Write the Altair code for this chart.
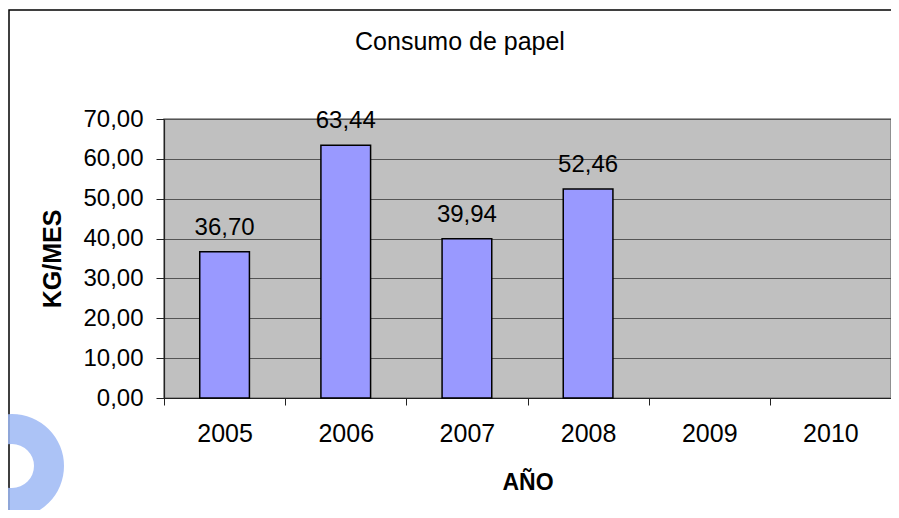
import altair as alt
import pandas as pd

years = ["2005", "2006", "2007", "2008", "2009", "2010"]
values = [36.70, 63.44, 39.94, 52.46, None, None]
title_text = "Consumo de papel"
y_title = "KG/MES"
x_title = "AÑO"

W, H = 727, 279
FONT = "Liberation Sans"

df = pd.DataFrame({"anio": years, "valor": values})
one = pd.DataFrame({"t": [title_text]})

x_enc = alt.X("anio:N", sort=years,
              scale=alt.Scale(paddingInner=0, paddingOuter=0),
              axis=alt.Axis(title=x_title, labelAngle=0, tickBand="extent",
                            labelFontSize=25, labelFont=FONT, labelColor="black",
                            labelPadding=16, tickSize=7, tickColor="#222",
                            domainColor="#222", domainWidth=1.2,
                            titleFont=FONT, titleFontSize=23, titleFontWeight="bold",
                            titleX=W / 2, titleY=84, titleBaseline="middle",
                            titleColor="black"))
y_enc = alt.Y("valor:Q",
              scale=alt.Scale(domain=[0, 70], nice=False, zero=True),
              axis=alt.Axis(title=y_title, values=[0, 10, 20, 30, 40, 50, 60, 70],
                            labelExpr="replace(format(datum.value, '.2f'), '.', ',')",
                            labelFontSize=24, labelFont=FONT, labelColor="black",
                            labelPadding=13, tickSize=8, tickColor="#222",
                            labelOverlap=False,
                            domainColor="#222", domainWidth=1.2,
                            grid=True, gridColor="#555", gridWidth=1,
                            titleFont=FONT, titleFontSize=25, titleFontWeight="bold",
                            titleAngle=-90, titleX=-112, titleY=H / 2,
                            titleAlign="center", titleBaseline="middle",
                            titleColor="black"))

bars = alt.Chart(df).mark_bar(fill="#9999FF", stroke="black", strokeWidth=1.5,
                              width=alt.RelativeBandSize(0.41)).encode(
    x=x_enc, y=y_enc
)

labels = alt.Chart(df).transform_filter("isValid(datum.valor)").transform_calculate(
    label="replace(format(datum.valor, '.2f'), '.', ',')"
).mark_text(font=FONT, fontSize=24, baseline="bottom", dy=-12, color="black").encode(
    x=x_enc, y=y_enc, text="label:N",
)

title = alt.Chart(one).mark_text(font=FONT, fontSize=25, baseline="middle",
                                 align="center", color="black").encode(
    x=alt.value(296), y=alt.value(-77), text="t:N"
)

frame = alt.Chart(one).mark_rect(fill="transparent", stroke="black", strokeWidth=1.5).encode(
    x=alt.value(-155), x2=alt.value(W + 40), y=alt.value(-109), y2=alt.value(H + 200)
)

ring = alt.Chart(one).mark_arc(theta=0, theta2=6.2832, innerRadius=22, outerRadius=52,
                               color="#9DB8F5", opacity=0.85).encode(
    x=alt.value(-152), y=alt.value(347)
)

chart = alt.layer(frame, ring, bars, labels, title).properties(
    width=W, height=H,
    autosize=alt.AutoSizeParams(type="none"),
    padding={"left": 156, "top": 111, "right": 0, "bottom": 112},
    background="white",
).configure_view(fill="#C0C0C0", stroke="#808080", strokeWidth=1.5)

chart.save("out.html", embed_options={"renderer": "svg", "actions": False})
